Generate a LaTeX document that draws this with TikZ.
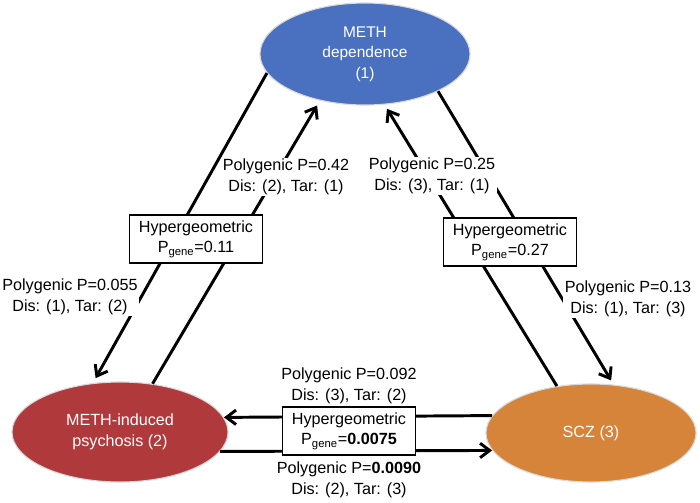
\documentclass[tikz,border=0pt]{standalone}
\usepackage{fontspec}
\setmainfont{Liberation Sans}
\usetikzlibrary{shapes.geometric,arrows.meta}
\definecolor{methblue}{HTML}{4A70C0}
\definecolor{methred}{HTML}{B0393B}
\definecolor{sczorange}{HTML}{D6843A}
\begin{document}
\begin{tikzpicture}[x=0.025cm,y=-0.025cm,
  disease/.style={ellipse, draw=black!15, line width=0.8pt, text=white, inner sep=0pt, align=center, font=\fontsize{11.5}{14.5}\selectfont},
  hyperbox/.style={draw=black, line width=1.1pt, fill=white, minimum width=3.325cm, minimum height=1.2cm, inner sep=0pt, align=center, font=\fontsize{11.5}{14.5}\selectfont},
  plabel/.style={fill=white, inner sep=1pt, align=center, font=\fontsize{11.5}{14.5}\selectfont},
  conn/.style={line width=2.1pt, -{Straight Barb[length=2.4mm,width=3.6mm]}},
]
\useasboundingbox (0,0) rectangle (700,502);
% disease nodes
\node[disease, fill=methblue, minimum width=5.25cm, minimum height=2.55cm, font=\fontsize{11}{14.5}\selectfont] (dep) at (365,54) {METH\\dependence\\(1)};
\node[disease, fill=methred, minimum width=5.4cm, minimum height=2.5cm] (mip) at (120,432) {METH-induced\\psychosis (2)};
\node[disease, fill=sczorange, minimum width=5.25cm, minimum height=2.45cm] (scz) at (591,433) {SCZ (3)};
% connectors
\draw[conn, shorten >=1.4mm] (dep.191.7) -- (mip.119.7);
\draw[conn, shorten >=1.4mm] (mip.56.3) -- (dep.226.5);
\draw[conn, shorten >=1.2mm] (dep.333.7) -- (scz.65.4);
\draw[conn, shorten >=1.2mm] (scz.126.2) -- (dep.291.8);
\draw[conn] (scz.170.8) -- (mip.8.3);
\draw[conn] (mip.349.2) -- (scz.190.4);
% hypergeometric boxes
\node[hyperbox] (h12) at (196,239) {Hypergeometric\\P\textsubscript{gene}=0.11};
\node[hyperbox] (h13) at (510,242) {Hypergeometric\\P\textsubscript{gene}=0.27};
\node[hyperbox] (h23) at (349,431) {Hypergeometric\\P\textsubscript{gene}=\textbf{0.0075}};
% polygenic labels
\node[plabel] (p21) at (286,177) {Polygenic P=0.42\\Dis: (2), Tar: (1)};
\node[plabel] (p31) at (432,176) {Polygenic P=0.25\\Dis: (3), Tar: (1)};
\node[plabel] (p12) at (70,297) {Polygenic P=0.055\\Dis: (1), Tar: (2)};
\node[plabel] (p13) at (628,299) {Polygenic P=0.13\\Dis: (1), Tar: (3)};
\node[plabel] (p32) at (349,386) {Polygenic P=0.092\\Dis: (3), Tar: (2)};
\node[plabel] (p23) at (349,480) {Polygenic P=\textbf{0.0090}\\Dis: (2), Tar: (3)};
\end{tikzpicture}
\end{document}
